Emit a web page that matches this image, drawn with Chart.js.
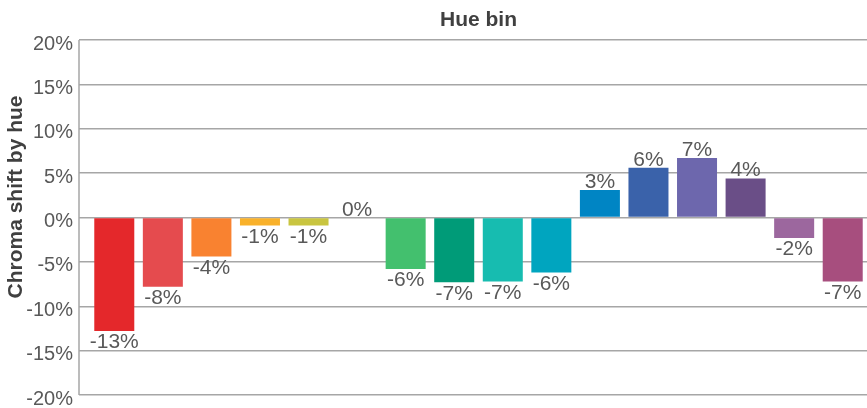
<!DOCTYPE html>
<html>
<head>
<meta charset="utf-8">
<script src="https://cdn.jsdelivr.net/npm/chart.js@4/dist/chart.umd.min.js"></script>
<style>
  html, body { margin: 0; padding: 0; background: #fff; }
  canvas { display: block; }
</style>
</head>
<body>
<canvas id="chart" width="867" height="408"></canvas>
<script>
// data
const hueBins = ["1", "2", "3", "4", "5", "6", "7", "8", "9", "10", "11", "12", "13", "14", "15", "16"];
const chromaShift = [-12.8, -7.8, -4.4, -0.9, -0.9, 0, -5.8, -7.3, -7.2, -6.2, 3.1, 5.6, 6.7, 4.4, -2.3, -7.2];
const binColors = [
    "#E4282B", "#E54B4E", "#F98230", "#F9B12A", "#C9C540", "#CCCCCC",
    "#43C06E", "#009B78", "#17BCB0", "#00A5BF", "#0085C4", "#3A62AA",
    "#6D67AD", "#6A4E87", "#9C679E", "#A74E7E"
];
const yTicks = [-20, -15, -10, -5, 0, 5, 10, 15, 20];
const yTitle = "Chroma shift by hue";

const FONT = "'Liberation Sans', Arial, sans-serif";
const gridColor = "#A6A6A6";

// labels on the bar ends, the y axis line left of the first bin, and the y title
const barLabels = {
    id: "barLabels",
    afterDatasetsDraw(chart) {
        const ctx = chart.ctx;
        const meta = chart.getDatasetMeta(0);
        ctx.save();
        ctx.font = "21px " + FONT;
        ctx.fillStyle = "#595959";
        ctx.textAlign = "center";
        meta.data.forEach((bar, i) => {
            const v = chromaShift[i];
            const txt = Math.round(v) + "%";
            if (v < 0) {
                ctx.textBaseline = "top";
                ctx.fillText(txt, bar.x, bar.y + 1);
            } else {
                ctx.textBaseline = "alphabetic";
                ctx.fillText(txt, bar.x, bar.y - 2);
            }
        });
        ctx.restore();
    },
    beforeDatasetsDraw(chart) {
        const ctx = chart.ctx;
        const y = chart.scales.y;
        ctx.save();
        ctx.strokeStyle = gridColor;
        ctx.lineWidth = 1.5;
        ctx.beginPath();
        ctx.moveTo(79, y.getPixelForValue(20));
        ctx.lineTo(79, y.getPixelForValue(-20));
        ctx.stroke();

        ctx.translate(16, 197);
        ctx.rotate(-Math.PI / 2);
        ctx.font = "bold 21px " + FONT;
        ctx.fillStyle = "#404040";
        ctx.textAlign = "center";
        ctx.textBaseline = "middle";
        ctx.fillText(yTitle, 0, 0);
        ctx.restore();
    }
};

new Chart(document.getElementById("chart"), {
    type: "bar",
    data: {
        labels: hueBins,
        datasets: [{
            data: chromaShift,
            backgroundColor: binColors,
            barPercentage: 0.824,
            categoryPercentage: 1
        }]
    },
    options: {
        responsive: false,
        animation: false,
        layout: { padding: { top: 0, right: 0, bottom: 13, left: 0 } },
        plugins: {
            legend: { display: false },
            tooltip: { enabled: false }
        },
        scales: {
            x: {
                position: "top",
                grid: { display: false },
                border: { display: false },
                ticks: { display: false },
                title: {
                    display: true,
                    text: "Hue bin",
                    color: "#404040",
                    font: { family: FONT, size: 21, weight: "bold" },
                    padding: { top: 8, bottom: 0 }
                },
                afterFit(scale) { scale.height = 40; }
            },
            y: {
                min: -20,
                max: 20,
                afterBuildTicks(scale) {
                    scale.ticks = yTicks.map(v => ({ value: v }));
                },
                grid: {
                    color: gridColor,
                    lineWidth: 1.5,
                    drawTicks: true,
                    tickLength: 11,
                    tickColor: gridColor
                },
                border: { display: false },
                ticks: {
                    color: "#595959",
                    font: { family: FONT, size: 20 },
                    padding: 6,
                    labelOffset: 4,
                    callback: v => v + "%"
                },
                afterFit(scale) {
                    scale.width = 90;
                    scale.paddingTop = 0;
                    scale.paddingBottom = 0;
                }
            }
        }
    },
    plugins: [barLabels]
});
</script>
</body>
</html>
